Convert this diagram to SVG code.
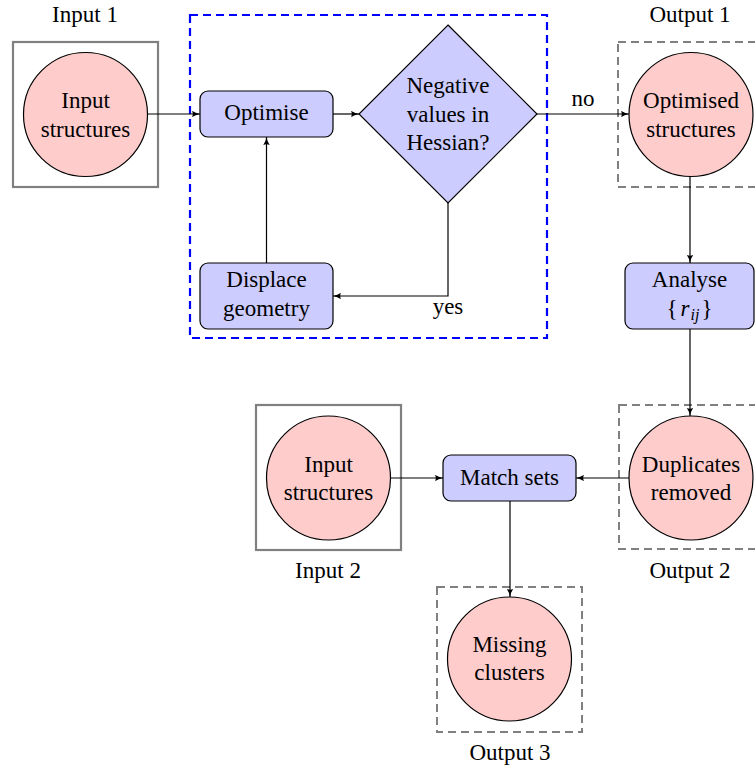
<svg xmlns="http://www.w3.org/2000/svg" width="755" height="769" viewBox="0 0 755 769">
<style>
text{font-family:"Liberation Serif","Times New Roman",serif;font-size:23px;fill:#000;text-anchor:middle}
.circ{fill:#ffcccc;stroke:#000;stroke-width:1.2}
.proc{fill:#ccccff;stroke:#000;stroke-width:1.2}
.solidbox{fill:none;stroke:#808080;stroke-width:2.2}
.dashbox{fill:none;stroke:#808080;stroke-width:2;stroke-dasharray:8 5}
.group{fill:none;stroke:#0000ff;stroke-width:2.2;stroke-dasharray:8 5}
.conn{fill:none;stroke:#000;stroke-width:1.2;marker-end:url(#arr)}
</style>
<defs>
<marker id="arr" viewBox="0 0 10 8" refX="10" refY="4" markerWidth="8" markerHeight="6.4" markerUnits="userSpaceOnUse" orient="auto">
<path d="M0,0 Q4,3 10,4 Q4,5 0,8 Q2,4 0,0 z" fill="#000"/>
</marker>
</defs>

<rect class="group" x="190" y="15" width="357" height="323"/>

<g id="input1">
<text x="85" y="22">Input 1</text>
<rect class="solidbox" x="13" y="42" width="145" height="145"/>
<circle class="circ" cx="85.5" cy="114.5" r="62"/>
<text x="85.5" y="108">Input</text>
<text x="85.5" y="137">structures</text>
</g>

<g id="optimise">
<rect class="proc" x="200" y="91" width="133" height="46" rx="8"/>
<text x="266.5" y="119.5">Optimise</text>
</g>

<g id="hessian">
<polygon class="proc" points="448,25 537,114 448,203 359,114"/>
<text x="448" y="93">Negative</text>
<text x="448" y="122">values in</text>
<text x="448" y="150">Hessian?</text>
</g>

<g id="displace">
<rect class="proc" x="200" y="263" width="133" height="66" rx="8"/>
<text x="266.5" y="287">Displace</text>
<text x="266.5" y="316">geometry</text>
</g>

<g id="output1">
<text x="690" y="22">Output 1</text>
<rect class="dashbox" x="618" y="42" width="146" height="145"/>
<circle class="circ" cx="691" cy="114.5" r="62"/>
<text x="691" y="108">Optimised</text>
<text x="691" y="137">structures</text>
</g>

<g id="analyse">
<rect class="proc" x="625" y="263" width="129" height="66" rx="8"/>
<text x="689.5" y="287">Analyse</text>
<text x="689.5" y="316">{<tspan font-style="italic" dx="3">r</tspan><tspan font-style="italic" font-size="16" dx="1" dy="4">ij</tspan><tspan dx="2" dy="-4">}</tspan></text>
</g>

<g id="output2">
<text x="690" y="578">Output 2</text>
<rect class="dashbox" x="619" y="405" width="146" height="144"/>
<circle class="circ" cx="691" cy="478" r="62"/>
<text x="691" y="472">Duplicates</text>
<text x="691" y="500">removed</text>
</g>

<g id="input2">
<text x="328" y="578">Input 2</text>
<rect class="solidbox" x="256" y="405" width="145" height="145"/>
<circle class="circ" cx="328.5" cy="478" r="62"/>
<text x="328.5" y="472">Input</text>
<text x="328.5" y="500">structures</text>
</g>

<g id="match">
<rect class="proc" x="443" y="455" width="133" height="46" rx="8"/>
<text x="509.5" y="485">Match sets</text>
</g>

<g id="output3">
<rect class="dashbox" x="437" y="587" width="145" height="145"/>
<circle class="circ" cx="509.5" cy="659" r="62"/>
<text x="509.5" y="652">Missing</text>
<text x="509.5" y="680">clusters</text>
<text x="510" y="760">Output 3</text>
</g>

<g id="connectors">
<path class="conn" d="M147.5,114 H200"/>
<path class="conn" d="M333,114 H359"/>
<path class="conn" d="M537,114 H629"/>
<text x="583" y="106">no</text>
<path class="conn" d="M448,203 V296 H333"/>
<text x="448" y="314">yes</text>
<path class="conn" d="M266.5,263 V137"/>
<path class="conn" d="M690,176.5 V263"/>
<path class="conn" d="M690,329 V416"/>
<path class="conn" d="M390.5,478 H443"/>
<path class="conn" d="M629,478 H576"/>
<path class="conn" d="M510,501 V597"/>
</g>
</svg>
